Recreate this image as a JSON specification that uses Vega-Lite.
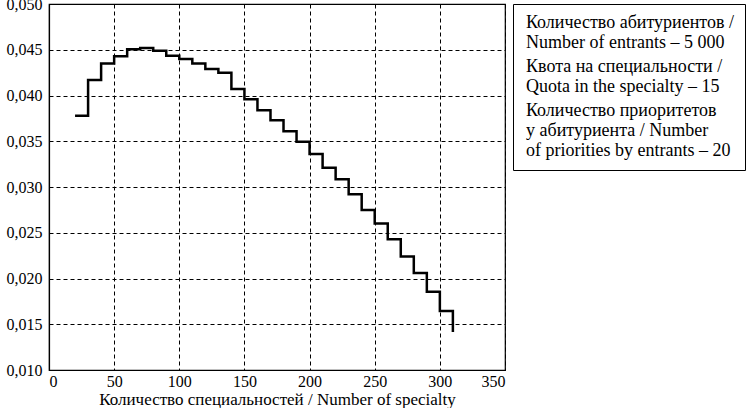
{
  "$schema": "https://vega.github.io/schema/vega-lite/v6.json",
  "width": 456,
  "height": 366,
  "autosize": "none",
  "padding": {"left": 49, "top": 4, "right": 250, "bottom": 38},
  "background": "white",
  "config": {
    "font": "Liberation Serif",
    "view": {"stroke": "black", "strokeWidth": 1.2},
    "axis": {
      "labelFont": "Liberation Serif",
      "titleFont": "Liberation Serif",
      "labelFontSize": 16,
      "titleFontSize": 17,
      "titleFontWeight": "normal",
      "labelColor": "black",
      "titleColor": "black",
      "domainColor": "black",
      "domainWidth": 1.2,
      "gridColor": "black",
      "gridDash": [4, 3],
      "gridWidth": 1,
      "gridOpacity": 1,
      "ticks": false
    }
  },
  "data": {
    "values": [
      {"x": 20, "y": 0.0378},
      {"x": 30, "y": 0.0417},
      {"x": 40, "y": 0.0435},
      {"x": 50, "y": 0.0443},
      {"x": 60, "y": 0.04505},
      {"x": 70, "y": 0.0452},
      {"x": 80, "y": 0.0449},
      {"x": 90, "y": 0.04435},
      {"x": 100, "y": 0.0440},
      {"x": 110, "y": 0.0435},
      {"x": 120, "y": 0.0429},
      {"x": 130, "y": 0.0425},
      {"x": 140, "y": 0.0407},
      {"x": 150, "y": 0.0396},
      {"x": 160, "y": 0.0384},
      {"x": 170, "y": 0.0373},
      {"x": 180, "y": 0.0361},
      {"x": 190, "y": 0.03495},
      {"x": 200, "y": 0.0336},
      {"x": 210, "y": 0.0321},
      {"x": 220, "y": 0.03084},
      {"x": 230, "y": 0.0292},
      {"x": 240, "y": 0.0275},
      {"x": 250, "y": 0.0260},
      {"x": 260, "y": 0.0243},
      {"x": 270, "y": 0.0224},
      {"x": 280, "y": 0.0206},
      {"x": 290, "y": 0.01855},
      {"x": 300, "y": 0.01645},
      {"x": 310, "y": 0.01415}
    ]
  },
  "mark": {"type": "line", "interpolate": "step-after", "color": "black", "strokeWidth": 2.5},
  "encoding": {
    "x": {
      "field": "x",
      "type": "quantitative",
      "scale": {"domain": [0, 350], "nice": false},
      "axis": {
        "values": [0, 50, 100, 150, 200, 250, 300, 350],
        "title": "Количество специальностей / Number of specialty",
        "labelPadding": 3,
        "titlePadding": 2
      }
    },
    "y": {
      "field": "y",
      "type": "quantitative",
      "scale": {"domain": [0.01, 0.05], "nice": false, "zero": false},
      "axis": {
        "values": [0.01, 0.015, 0.02, 0.025, 0.03, 0.035, 0.04, 0.045, 0.05],
        "labelExpr": "replace(format(datum.value, '.3f'), '.', ',')",
        "title": null,
        "labelPadding": 7
      }
    },
    "color": {
      "datum": "a",
      "scale": {"domain": ["a", "b", "c"], "range": ["black", "black", "black"]},
      "legend": {
        "title": null,
        "orient": "right",
        "offset": 8,
        "strokeColor": "black",
        "padding": 10,
        "symbolSize": 0,
        "symbolStrokeWidth": 0,
        "symbolOpacity": 0,
        "labelOffset": -15,
        "labelFont": "Liberation Serif",
        "labelFontSize": 18,
        "labelLineHeight": 21,
        "labelColor": "black",
        "labelLimit": 0,
        "rowPadding": 6,
        "labelExpr": "datum.label == 'a' ? ['Количество абитуриентов /', 'Number of entrants – 5 000'] : datum.label == 'b' ? ['Квота на специальности /', 'Quota in the specialty – 15'] : ['Количество приоритетов', 'у абитуриента / Number', 'of priorities by entrants – 20']"
      }
    }
  }
}
